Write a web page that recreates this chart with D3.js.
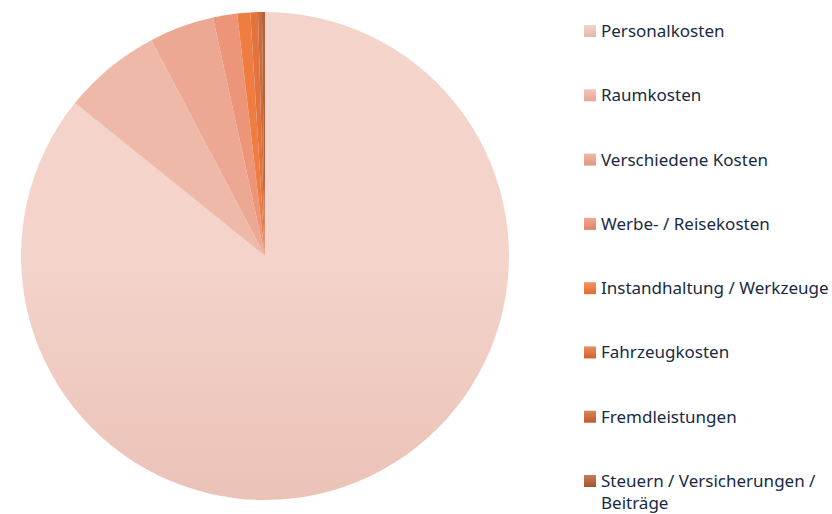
<!DOCTYPE html>
<html>
<head>
<meta charset="utf-8">
<script src="https://cdn.jsdelivr.net/npm/d3@7"></script>
<style>
  body { margin: 0; background: #fff; }
  svg { display: block; }
  .legend text { font-family: "Noto Sans", sans-serif; font-size: 17px; fill: #172a42; }
</style>
</head>
<body>
<svg id="chart" width="832" height="514"></svg>
<script>
// categories and their share of costs (percent)
var categories = [
	'Personalkosten',
	'Raumkosten',
	'Verschiedene Kosten',
	'Werbe- / Reisekosten',
	'Instandhaltung / Werkzeuge',
	'Fahrzeugkosten',
	'Fremdleistungen',
	'Steuern / Versicherungen / Beiträge'
];
var values = [85.8, 6.5, 4.3, 1.6, 0.86, 0.5, 0.26, 0.2];
var colors = ['#efc4b8', '#eeb3a3', '#eba08a', '#ea8c6c', '#ee7230', '#de682c', '#c85e2a', '#ae5428'];

var svg = d3.select('#chart');
var cx = 265, cy = 256, r = 244;

var data = categories.map(function(c, i) { return { name: c, value: values[i], color: colors[i] }; });

function topColor(c) { return d3.interpolateRgb(c, '#ffffff')(0.25); }
function bottomColor(c) { return d3.interpolateRgb(c, '#5a2010')(0.08); }

// gradients: lighter at top, darker at bottom
var defs = svg.append('defs');
data.forEach(function(d, i) {
	var g = defs.append('linearGradient')
		.attr('id', 'grad' + i)
		.attr('x1', 0).attr('y1', 0).attr('x2', 0).attr('y2', 1);
	g.append('stop').attr('offset', '0%').attr('stop-color', topColor(d.color));
	g.append('stop').attr('offset', '100%').attr('stop-color', bottomColor(d.color));

	// small slices only span the top half, keep them vivid there
	var big = d.value > 50;
	var gp = defs.append('linearGradient')
		.attr('id', 'pgrad' + i)
		.attr('gradientUnits', 'userSpaceOnUse')
		.attr('x1', 0).attr('y1', cy - r).attr('x2', 0).attr('y2', cy + r);
	gp.append('stop').attr('offset', '0%')
		.attr('stop-color', big ? topColor(d.color) : d3.interpolateRgb(d.color, '#ffffff')(0.08));
	gp.append('stop').attr('offset', '100%')
		.attr('stop-color', big ? d3.interpolateRgb(d.color, '#c0705a')(0.25) : bottomColor(d.color));
});

var pie = d3.pie().sort(null).value(function(d) { return d.value; });
var arc = d3.arc().innerRadius(0).outerRadius(r);

svg.append('g')
	.attr('transform', 'translate(' + cx + ',' + cy + ')')
	.selectAll('path')
	.data(pie(data))
	.enter()
	.append('path')
	.attr('d', arc)
	.attr('fill', function(d, i) { return 'url(#pgrad' + i + ')'; });

// legend
var legend = svg.append('g').attr('class', 'legend');
var rowY = d3.scalePoint().domain(categories).range([31, 481]);

var item = legend.selectAll('g')
	.data(data)
	.enter()
	.append('g')
	.attr('transform', function(d) { return 'translate(584,' + rowY(d.name) + ')'; });

item.append('rect')
	.attr('x', 0).attr('y', -6)
	.attr('width', 12).attr('height', 12)
	.attr('fill', function(d, i) { return 'url(#grad' + i + ')'; });

item.append('text')
	.attr('x', 17)
	.attr('dy', '0.35em')
	.each(function(d) {
		var t = d3.select(this);
		if (d.name.length > 30) {
			var cut = d.name.lastIndexOf('/') + 1;
			t.append('tspan').attr('x', 17).text(d.name.slice(0, cut));
			t.append('tspan').attr('x', 17).attr('dy', 22).text(d.name.slice(cut).trim());
		} else {
			t.text(d.name);
		}
	});
</script>
</body>
</html>
